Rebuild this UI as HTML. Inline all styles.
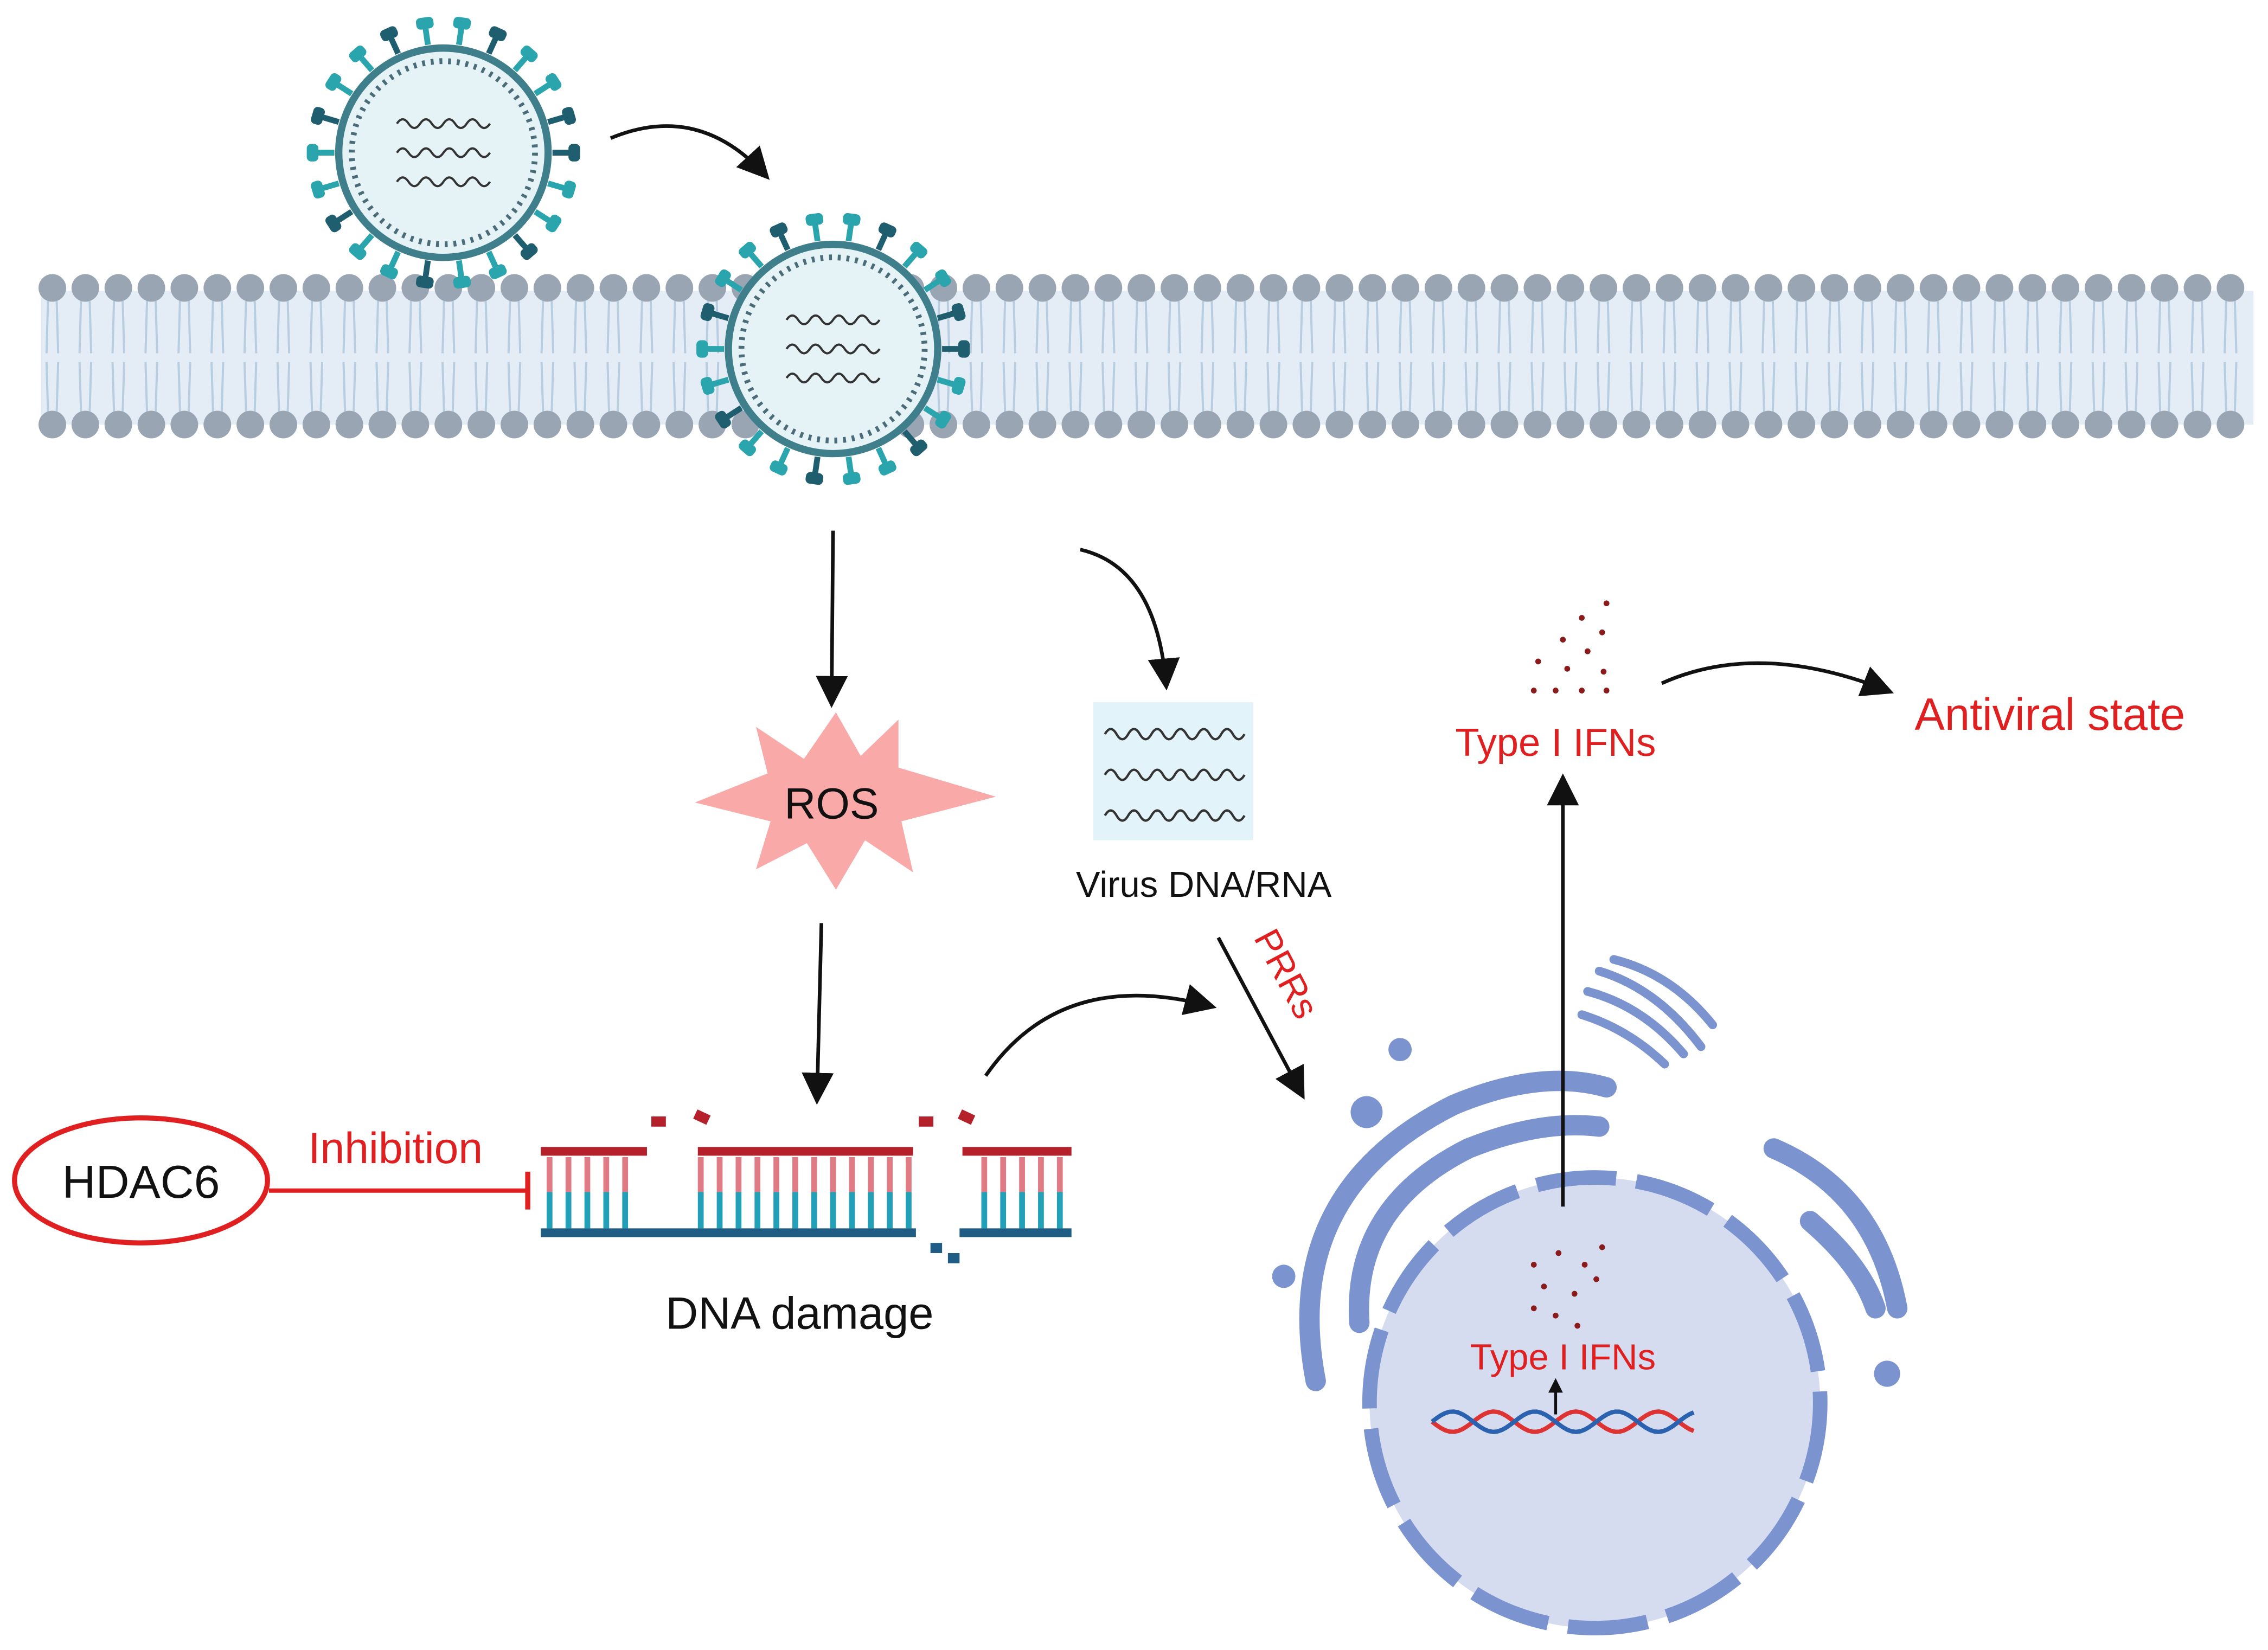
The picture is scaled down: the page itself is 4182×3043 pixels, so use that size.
<!DOCTYPE html>
<html><head><meta charset="utf-8"><style>
html,body{margin:0;padding:0;background:#fff;}
svg{display:block}
text{font-family:"Liberation Sans",sans-serif;}
</style></head><body>
<svg width="4182" height="3043" viewBox="0 0 1560 1135" xmlns="http://www.w3.org/2000/svg">
<defs>
<marker id="ah" markerWidth="10" markerHeight="10" refX="8" refY="5" orient="auto" markerUnits="userSpaceOnUse" viewBox="0 0 10 10">
<path d="M0,0 L10,5 L0,10 z" fill="#111"/></marker>
<marker id="ahb" markerWidth="22" markerHeight="22" refX="17" refY="11" orient="auto" markerUnits="userSpaceOnUse" viewBox="0 0 22 22">
<path d="M0,0 L22,11 L0,22 z" fill="#111"/></marker>
</defs>
<rect width="1560" height="1135" fill="#fff"/>
<rect x="28" y="200" width="1522" height="92" fill="#e4edf5"/>
<g id="mem"></g>
<g id="v1"></g><g id="v2"></g>
<path d="M420,95 Q480,70 526,120" fill="none" stroke="#111" stroke-width="2.5" marker-end="url(#ahb)"/>
<line x1="573" y1="365" x2="572" y2="482" stroke="#111" stroke-width="2.5" marker-end="url(#ahb)"/>
<path d="M743,378 Q795,390 802,470" fill="none" stroke="#111" stroke-width="2.5" marker-end="url(#ahb)"/>
<line x1="565" y1="635" x2="562" y2="755" stroke="#111" stroke-width="2.5" marker-end="url(#ahb)"/>
<path d="M678,740 Q730,665 832,692" fill="none" stroke="#111" stroke-width="2.5" marker-end="url(#ahb)"/>
<line x1="838" y1="645" x2="895" y2="752" stroke="#111" stroke-width="2.5" marker-end="url(#ahb)"/>
<path d="M1143,470 Q1210,440 1298,475" fill="none" stroke="#111" stroke-width="2.5" marker-end="url(#ahb)"/>
<polygon points="575,490 592,520 618,495 618,528 685,548 620,565 628,600 595,578 575,612 555,580 520,598 530,565 478,552 528,532 520,500 553,522" fill="#f9a9a8"/>
<text x="572" y="563" font-size="30" text-anchor="middle" fill="#111">ROS</text>
<rect x="752" y="483" width="110" height="95" fill="#e2f4f9"/>
<g id="wv"></g>
<text x="828" y="617" font-size="25" text-anchor="middle" fill="#111">Virus DNA/RNA</text>
<text x="0" y="0" font-size="25" fill="#e02020" transform="translate(862,645) rotate(62)">PRRs</text>
<ellipse cx="97" cy="812" rx="87" ry="43" fill="#fff" stroke="#e02020" stroke-width="3.5"/>
<text x="97" y="824" font-size="32" text-anchor="middle" fill="#111">HDAC6</text>
<text x="272" y="800" font-size="30" text-anchor="middle" fill="#e02020">Inhibition</text>
<line x1="185" y1="819" x2="363" y2="819" stroke="#e02020" stroke-width="3"/>
<line x1="363" y1="806" x2="363" y2="832" stroke="#e02020" stroke-width="3.5"/>
<g id="dna"></g>
<path d="M372,792 H445 M480,792 H628 M662,792 H737" stroke="#b5212a" stroke-width="6"/>
<path d="M372,848 H630 M660,848 H737" stroke="#1f5d85" stroke-width="6"/>
<g fill="#b5212a"><rect x="448" y="768" width="10" height="7"/><rect x="478" y="765" width="10" height="7" transform="rotate(25 483 768)"/><rect x="632" y="768" width="10" height="7"/><rect x="660" y="765" width="10" height="7" transform="rotate(25 665 768)"/></g>
<g fill="#1f5d85"><rect x="640" y="855" width="8" height="7"/><rect x="652" y="862" width="8" height="7"/></g>
<text x="550" y="914" font-size="31" text-anchor="middle" fill="#111">DNA damage</text>
<g fill="none" stroke="#7b93cf" stroke-width="14" stroke-linecap="round">
<path d="M905,950 Q880,820 1000,760 Q1060,735 1105,748"/>
<path d="M935,910 Q930,830 1010,790 Q1060,770 1100,775"/>
<path d="M1220,790 Q1290,820 1305,900"/>
<path d="M1245,840 Q1280,870 1290,900"/>
</g>
<g fill="#7b93cf"><circle cx="940" cy="765" r="11"/><circle cx="963" cy="722" r="8"/><circle cx="883" cy="878" r="8"/><circle cx="1298" cy="945" r="9"/></g>
<g fill="none" stroke="#7b93cf" stroke-width="6" stroke-linecap="round">
<path d="M1100,668 Q1140,680 1170,720"/><path d="M1092,682 Q1130,692 1158,725"/><path d="M1088,698 Q1120,708 1145,732"/><path d="M1110,660 Q1150,670 1178,705"/>
</g>
<circle cx="1097" cy="965" r="155" fill="#d6dcef" stroke="#7b93cf" stroke-width="10" stroke-dasharray="55 14"/>
<g fill="#8b1a1a"><circle cx="1055" cy="870" r="2"/><circle cx="1072" cy="862" r="2"/><circle cx="1090" cy="870" r="2"/><circle cx="1102" cy="858" r="2"/><circle cx="1062" cy="885" r="2"/><circle cx="1083" cy="890" r="2"/><circle cx="1098" cy="880" r="2"/><circle cx="1070" cy="905" r="2"/><circle cx="1085" cy="912" r="2"/><circle cx="1055" cy="900" r="2"/></g>
<text x="1075" y="942" font-size="25" text-anchor="middle" fill="#e02020">Type I IFNs</text>
<g id="helix"></g>
<line x1="1070" y1="973" x2="1070" y2="950" stroke="#111" stroke-width="2" marker-end="url(#ah)"/>
<line x1="1075" y1="830" x2="1075" y2="537" stroke="#111" stroke-width="2.5" marker-end="url(#ahb)"/>
<g fill="#8b1a1a"><circle cx="1105" cy="415" r="2"/><circle cx="1088" cy="425" r="2"/><circle cx="1102" cy="435" r="2"/><circle cx="1075" cy="440" r="2"/><circle cx="1092" cy="448" r="2"/><circle cx="1058" cy="455" r="2"/><circle cx="1078" cy="460" r="2"/><circle cx="1103" cy="462" r="2"/><circle cx="1055" cy="475" r="2"/><circle cx="1070" cy="475" r="2"/><circle cx="1088" cy="475" r="2"/><circle cx="1105" cy="475" r="2"/></g>
<text x="1070" y="520" font-size="27" text-anchor="middle" fill="#e02020">Type I IFNs</text>
<text x="1410" y="502" font-size="31" text-anchor="middle" fill="#e02020">Antiviral state</text>
</svg>
<script>
(function(){
var g=document.getElementById('mem'),s='';
for(var x=36;x<1550;x+=22.7){
 s+='<path d="M'+(x-3)+',207 L'+(x-4)+',243 M'+(x+3)+',207 L'+(x+4)+',243 M'+(x-3)+',283 L'+(x-4)+',249 M'+(x+3)+',283 L'+(x+4)+',249" stroke="#b8cde0" stroke-width="1.5" fill="none"/>';
 s+='<circle cx="'+x+'" cy="198" r="9.5" fill="#9aa5b3"/><circle cx="'+x+'" cy="292" r="9.5" fill="#9aa5b3"/>';
}
g.innerHTML=s;
function virus(cx,cy,id){
 var v='<circle cx="'+cx+'" cy="'+cy+'" r="72" fill="#e6f3f6" stroke="#3f7f8c" stroke-width="5"/>';
 v+='<circle cx="'+cx+'" cy="'+cy+'" r="63" fill="none" stroke="#4a6b78" stroke-width="4" stroke-dasharray="2 4"/>';
 for(var i=0;i<22;i++){var a=i/22*Math.PI*2,c=Math.cos(a),sn=Math.sin(a);
  var col=i%3==0?'#1f5e6e':'#2aa5ad';
  var x1=cx+75*c,y1=cy+75*sn,x2=cx+90*c,y2=cy+90*sn;
  v+='<line x1="'+x1+'" y1="'+y1+'" x2="'+x2+'" y2="'+y2+'" stroke="'+col+'" stroke-width="4"/>';
  v+='<rect x="'+(x2-6)+'" y="'+(y2-4)+'" width="12" height="8" rx="3" fill="'+col+'" transform="rotate('+(a*180/Math.PI+90)+' '+x2+' '+y2+')"/>';}
 for(var k=-1;k<=1;k++){var y=cy+k*20,p='M'+(cx-32)+','+y;
  for(var t=0;t<8;t++){p+=' q4,'+(t%2?6:-6)+' 8,0';}
  v+='<path d="'+p+'" fill="none" stroke="#333" stroke-width="1.5"/>';}
 document.getElementById(id).innerHTML=v;
}
virus(305,105,'v1');virus(573,240,'v2');
var w='';
for(var k=0;k<3;k++){var y=505+k*28,p='M760,'+y;for(var t=0;t<12;t++){p+=' q4,'+(t%2?7:-7)+' 8,0';}
 w+='<path d="'+p+'" fill="none" stroke="#333" stroke-width="1.6"/>';}
document.getElementById('wv').innerHTML=w;
var d='';
for(var x=378;x<737;x+=13){if((x>440&&x<480)||(x>625&&x<665))continue;
 d+='<line x1="'+x+'" y1="796" x2="'+x+'" y2="820" stroke="#e07b85" stroke-width="4"/><line x1="'+x+'" y1="820" x2="'+x+'" y2="845" stroke="#22a0b8" stroke-width="4"/>';}
document.getElementById('dna').innerHTML=d;
var p1='M985,978',p2='M985,978';
for(var x=985;x<=1165;x+=3){var y=978+7*Math.sin((x-985)/9);p1+=' L'+x+','+y;p2+=' L'+x+','+(1956-y);}
document.getElementById('helix').innerHTML='<path d="'+p1+'" fill="none" stroke="#d33" stroke-width="3"/><path d="'+p2+'" fill="none" stroke="#2a62b0" stroke-width="3"/>';
})();
</script>
</body></html>
